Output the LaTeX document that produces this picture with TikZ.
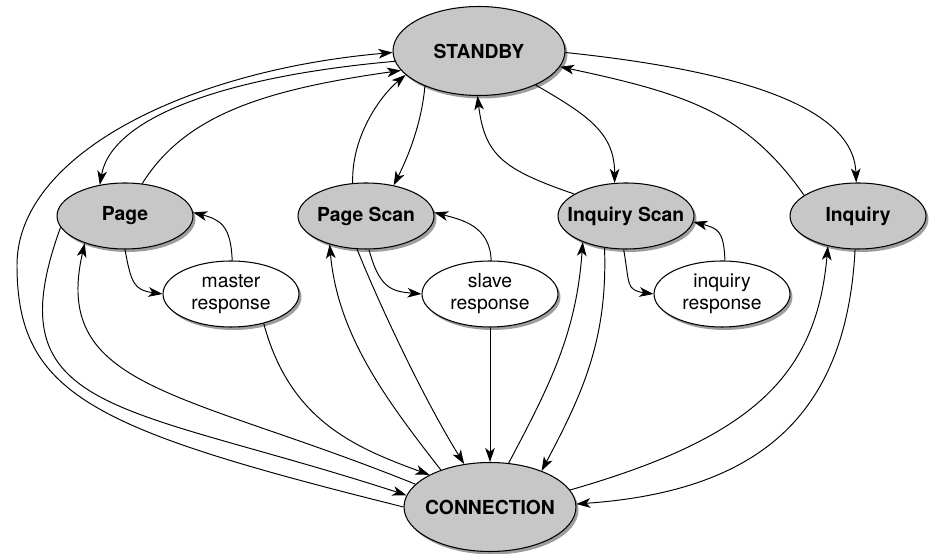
\documentclass[tikz,border=0pt]{standalone}
\usepackage{fontspec}
\setmainfont{TeX Gyre Heros}
\usetikzlibrary{shapes.geometric,shadows,arrows.meta}
\definecolor{stategray}{gray}{0.78}
\tikzset{
  bubble/.style={ellipse,draw,line width=0.6pt,inner sep=0pt,
    minimum width=2.72cm,minimum height=1.32cm,
    drop shadow={shadow xshift=0.05cm,shadow yshift=-0.06cm,fill=black!55,opacity=0.7}},
  every label/.style={font=\fontsize{11}{12.5}\selectfont},
  state/.style={bubble,fill=stategray,label={[font=\fontsize{11}{12.5}\selectfont\bfseries]center:#1}},
  mainstate/.style={state=#1,minimum width=3.44cm,minimum height=1.78cm},
  resp/.style={bubble,fill=white,label={[align=center]center:#1}},
  trans/.style={line width=0.55pt,-{Stealth[length=8pt,width=5.5pt,inset=2.2pt]}}
}
\begin{document}
\begin{tikzpicture}[x=0.02cm,y=0.02cm]
\useasboundingbox (0,0) rectangle (930,554);
\node[mainstate=STANDBY] (stand) at (479,503) {};
\node[state=Page] (page) at (125,338) {};
\node[state=Page Scan] (pscan) at (366,338) {};
\node[state=Inquiry Scan] (iscan) at (626,338) {};
\node[state=Inquiry] (inq) at (858,338) {};
\node[resp=master\\response] (mresp) at (231,260) {};
\node[resp=slave\\response] (sresp) at (490,260) {};
\node[resp=inquiry\\response] (iresp) at (722,260) {};
\node[mainstate=CONNECTION] (conn) at (490,47) {};

\draw[trans] (conn.180) .. controls +(166:320) and +(270:130) .. (17,289)
  .. controls +(90:110) and +(185:207) .. (stand.181);
\draw[trans] (stand.187) .. controls +(185:165) and +(80:70) .. (page.129);
\draw[trans] (page.62) .. controls +(58:80) and +(188:140) .. (stand.194);
\draw[trans] (stand.213) .. controls +(265:35) and +(63:35) .. (pscan.48);
\draw[trans] (pscan.112) .. controls +(92:45) and +(220:35) .. (stand.198);
\draw[trans] (stand.329) .. controls +(330:60) and +(90:50) .. (iscan.109);
\draw[trans] (iscan.157) .. controls +(161:75) and +(277:60) .. (stand.268);
\draw[trans] (stand.359) .. controls +(354:160) and +(92:80) .. (inq.93);
\draw[trans] (inq.159) .. controls +(125:100) and +(348:130) .. (stand.349);

\draw[trans] (page.270) .. controls +(280:35) and +(172:28) .. (mresp.180);
\draw[trans] (mresp.88) .. controls +(92:35) and +(345:28) .. (page.3);
\draw[trans] (mresp.318) .. controls +(285:100) and +(160:80) .. (conn.152);
\draw[trans] (page.190) .. controls +(250:200) and +(162:300) .. (conn.172);
\draw[trans] (conn.163) .. controls +(158:250) and +(257:150) .. (page.214);

\draw[trans] (conn.143) .. controls +(128:90) and +(275:90) .. (pscan.218);
\draw[trans] (pscan.255) .. controls +(292:70) and +(122:70) .. (conn.121);
\draw[trans] (pscan.275) .. controls +(285:40) and +(175:30) .. (sresp.180);
\draw[trans] (sresp.88) .. controls +(92:35) and +(345:28) .. (pscan.3);
\draw[trans] (sresp.south) -- (conn.north);

\draw[trans] (conn.67) .. controls +(62:90) and +(266:90) .. (iscan.211);
\draw[trans] (iscan.236) .. controls +(272:90) and +(62:90) .. (conn.35);
\draw[trans] (iscan.266) .. controls +(280:35) and +(172:28) .. (iresp.180);
\draw[trans] (iresp.85) .. controls +(92:30) and +(345:25) .. (iscan.355);
\draw[trans] (conn.12) .. controls +(16:190) and +(265:130) .. (inq.225);
\draw[trans] (inq.265) .. controls +(267:160) and +(4:190) .. (conn.2);
\end{tikzpicture}
\end{document}
